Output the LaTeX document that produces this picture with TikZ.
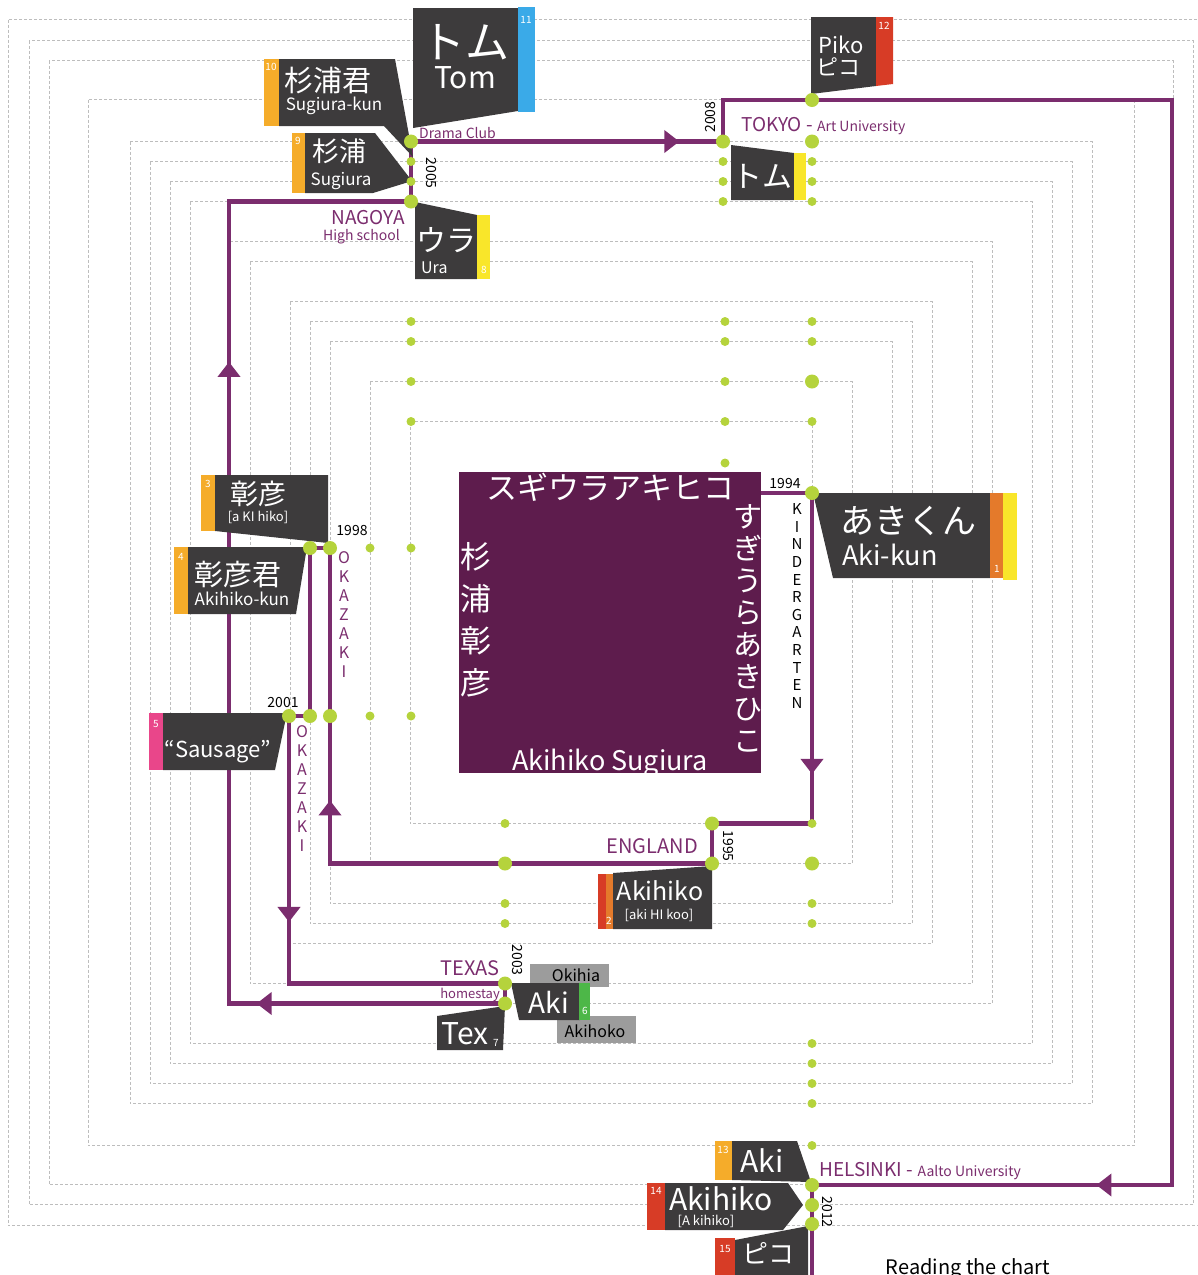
\documentclass[tikz,border=0pt]{standalone}
\usepackage{fontspec}
\setmainfont{Noto Sans CJK JP}
\usetikzlibrary{arrows.meta,decorations.markings}

\definecolor{routec}{HTML}{7B2D6E}
\definecolor{boxc}{HTML}{5E1C4D}
\definecolor{darkc}{HTML}{3D3B3C}
\definecolor{dotc}{HTML}{B5D33C}
\definecolor{gridc}{HTML}{BDBDBD}
\definecolor{orangec}{HTML}{F5AC2A}
\definecolor{yellowc}{HTML}{F9E62A}
\definecolor{rustc}{HTML}{E47A2B}
\definecolor{redc}{HTML}{D73C26}
\definecolor{bluec}{HTML}{3AAAE8}
\definecolor{pinkc}{HTML}{E9468A}
\definecolor{greenc}{HTML}{4DB748}
\definecolor{grayc}{HTML}{9C9C9C}

\newcommand{\fsz}[1]{\fontsize{#1}{#1}\selectfont}

\begin{document}
\begin{tikzpicture}[x=1pt,y=-1pt,
  grid/.style={gridc, densely dashed, line width=0.9pt},
  route/.style={routec, line width=4.5pt},
  arrowat/.style={postaction={decorate,decoration={markings,
      mark=at position #1 with {\arrow{Triangle[width=22pt,length=15pt]}}}}},
  dot/.style={circle, fill=dotc, inner sep=0, minimum size=9pt},
  bigdot/.style={dot, minimum size=14pt},
  callout/.style={fill=darkc},
  lbl/.style={text=white, inner sep=0},
  num/.style={text=white, inner sep=0, font=\fsz{10}},
  place/.style={text=routec, inner sep=0},
  year/.style={inner sep=0, font=\fsz{14}}]
  \useasboundingbox (0,0) rectangle (1198,1275);
  % Year squares
  \foreach \s in {201,241,281,301,321,361,381,421,441,461,481,523,562,582,603}
    \draw[grid] (611-\s,622.5-\s) rectangle (611+\s,622.5+\s);
  % Name box
  \node[fill=boxc, minimum width=302pt, minimum height=301pt, inner sep=0] (me) at (610,622.5) {};
  \begin{scope}
    \clip (me.south west) rectangle (me.north east);
    \node[lbl, font=\fsz{31}] (katakana) at (610,487) {スギウラアキヒコ};
    \node[lbl, font=\fontsize{31}{42}\selectfont, align=center] (kanji) at (476,620) {杉\\浦\\彰\\彦};
    \node[lbl, font=\fontsize{29}{32}\selectfont, align=center] (hiragana) at (748,628) {す\\ぎ\\う\\ら\\あ\\き\\ひ\\こ};
    \node[lbl, font=\fsz{27}, anchor=base] (romaji) at (610,770) {Akihiko Sugiura};
  \end{scope}
  % Route points
  \coordinate (k1) at (812,493);
  \coordinate (k2) at (812,823.5);
  \coordinate (e1) at (712,823.5);
  \coordinate (e2) at (712,863.5);
  \coordinate (o1) at (330,863.5);
  \coordinate (o2) at (330,548);
  \coordinate (o3) at (310,548);
  \coordinate (o4) at (310,716);
  \coordinate (o5) at (289,716);
  \coordinate (o6) at (289,983.5);
  \coordinate (t1) at (505,983.5);
  \coordinate (t2) at (505,1003.5);
  \coordinate (t3) at (229,1003.5);
  \coordinate (n1) at (229,201.5);
  \coordinate (n2) at (411,201.5);
  \coordinate (n3) at (411,141.5);
  \coordinate (y1) at (723,141.5);
  \coordinate (y2) at (723,100);
  \coordinate (y3) at (1172,100);
  \coordinate (y4) at (1172,1185);
  \coordinate (h1) at (812,1185);
  \coordinate (h2) at (812,1290);
  % Route
  \draw[route] (me.east |- k1) -- (k1) -- (k2) -- (e1) -- (e2) -- (o1) -- (o2) -- (o3)
    -- (o4) -- (o5) -- (o6) -- (t1) -- (t2) -- (t3) -- (n1) -- (n2) -- (n3) -- (y1)
    -- (y2) -- (y3) -- (y4) -- (h1) -- (h2);
  \draw[route, arrowat=0.85] (k1) -- (k2);
  \draw[route, arrowat=0.2] (o1) -- (o2);
  \draw[route, arrowat=0.77] (o5) -- (o6);
  \draw[route, arrowat=0.9] (t2) -- (t3);
  \draw[route, arrowat=0.8] (t3) -- (n1);
  \draw[route, arrowat=0.86] (n3) -- (y1);
  \draw[route, arrowat=0.21] (y4) -- (h1);
  % Places
  \node[place, font=\fsz{14}, anchor=base west] (drama) at (419,138) {Drama Club};
  \node[place, anchor=base west] (tokyo) at (741,131) {\fsz{19}TOKYO - \fsz{14}Art University};
  \node[place, font=\fsz{19}, anchor=east] (nagoya) at (405,218) {NAGOYA};
  \node[place, font=\fsz{14}, anchor=east] (highschool) at (400,237) {High school};
  \node[place, font=\fsz{20}, anchor=east] (england) at (698,846) {ENGLAND};
  \node[place, font=\fsz{20}, anchor=east] (texas) at (500,968) {TEXAS};
  \node[place, font=\fsz{13}, anchor=east] (homestay) at (500,995) {homestay};
  \node[place, anchor=base west] (helsinki) at (819,1176) {\fsz{19}HELSINKI - \fsz{14}Aalto University};
  \node[place, font=\fontsize{16}{19}\selectfont, align=center] (okazaki1) at (344,615) {O\\K\\A\\Z\\A\\K\\I};
  \node[place, font=\fontsize{16}{19}\selectfont, align=center] (okazaki2) at (302,789) {O\\K\\A\\Z\\A\\K\\I};
  \node[inner sep=0, font=\fontsize{15}{17.6}\selectfont, align=center] (kinder) at (797,606) {K\\I\\N\\D\\E\\R\\G\\A\\R\\T\\E\\N};
  % Years
  \node[year] (y1994) at (785,484) {1994};
  \node[year] (y1998) at (352,531) {1998};
  \node[year] (y2001) at (283,702) {2001};
  \node[year, rotate=-90] (y2005) at (431,173) {2005};
  \node[year, rotate=90] (y2008) at (711,117) {2008};
  \node[year, rotate=-90] (y1995) at (728,846) {1995};
  \node[year, rotate=-90] (y2003) at (517,960) {2003};
  \node[year, rotate=-90] (y2012) at (827,1212) {2012};
  % 1 Aki-kun
  \fill[callout] (813,493) -- (990,493) -- (990,578) -- (833,578) -- cycle;
  \fill[rustc] (990,493) rectangle (1003,578);
  \fill[yellowc] (1003,493) rectangle (1017,580);
  \node[lbl, font=\fsz{34}] (akikunjp) at (908,521) {あきくん};
  \node[lbl, font=\fsz{27}, anchor=west] (akikun) at (842,555) {Aki-kun};
  \node[num] (num1) at (997,569) {1};
  % 2 Akihiko
  \fill[callout] (613,873) -- (712,866) -- (712,929) -- (613,929) -- cycle;
  \fill[redc] (598,874) rectangle (606,929);
  \fill[rustc] (606,874) rectangle (613,929);
  \node[lbl, font=\fsz{25}] (akihiko) at (660,891) {Akihiko};
  \node[lbl, font=\fsz{13}] (akihikor) at (659,915) {[aki HI koo]};
  \node[num] (num2) at (609,921) {2};
  % 3 Akihiko kanji
  \fill[orangec] (201,475) rectangle (215,531);
  \fill[callout] (215,475) -- (328,475) -- (328,543) -- (215,531) -- cycle;
  \node[lbl, font=\fsz{28}] (akihikojp) at (258,494) {彰彦};
  \node[lbl, font=\fsz{13}] (akihikojpr) at (258,517) {[a KI hiko]};
  \node[num] (num3) at (208,484) {3};
  % 4 Akihiko-kun
  \fill[orangec] (174,547) rectangle (188,614);
  \fill[callout] (188,547) -- (307,547) -- (296,614) -- (188,614) -- cycle;
  \node[lbl, font=\fsz{29}] (akihikokunjp) at (238,575) {彰彦君};
  \node[lbl, font=\fsz{17}] (akihikokun) at (242,599) {Akihiko-kun};
  \node[num] (num4) at (181,557) {4};
  % 5 Sausage
  \fill[pinkc] (149,713) rectangle (163,770);
  \fill[callout] (163,713) -- (287,713) -- (275,770) -- (163,770) -- cycle;
  \node[lbl, font=\fsz{22}] (sausage) at (218,752) {“Sausage”};
  \node[num] (num5) at (156,724) {5};
  % 6 Aki
  \fill[grayc] (530,964) rectangle (609,987);
  \node[inner sep=0, font=\fsz{16}] (okihia) at (576,975) {Okihia};
  \fill[grayc] (557,1016) rectangle (636,1043);
  \node[inner sep=0, font=\fsz{16}] (akihoko) at (595,1031) {Akihoko};
  \fill[callout] (511,983) -- (580,983) -- (580,1020) -- (519,1020) -- cycle;
  \fill[greenc] (579,983) rectangle (590,1020);
  \node[lbl, font=\fsz{28}] (aki) at (549,1002) {Aki};
  \node[num] (num6) at (585,1011) {6};
  % 7 Tex
  \fill[callout] (437,1016) -- (505,1006) -- (503,1050) -- (437,1050) -- cycle;
  \node[lbl, font=\fsz{30}] (tex) at (465,1034) {Tex};
  \node[num] (num7) at (496,1043) {7};
  % 8 Ura
  \fill[callout] (415,202) -- (477,215) -- (477,279) -- (415,279) -- cycle;
  \fill[yellowc] (477,215) rectangle (490,279);
  \node[lbl, font=\fsz{30}] (urajp) at (446,240) {ウラ};
  \node[lbl, font=\fsz{16}, anchor=west] (ura) at (421,268) {Ura};
  \node[num] (num8) at (484,270) {8};
  % 9 Sugiura
  \fill[orangec] (292,133) rectangle (305,193);
  \fill[callout] (305,133) -- (375,133) -- (412,181) -- (373,193) -- (305,193) -- cycle;
  \node[lbl, font=\fsz{27}] (sugiurajp) at (339,151) {杉浦};
  \node[lbl, font=\fsz{17}] (sugiura) at (341,181) {Sugiura};
  \node[num] (num9) at (298,141) {9};
  % 10 Sugiura-kun
  \fill[orangec] (264,59) rectangle (279,126);
  \fill[callout] (279,59) -- (395,59) -- (413,157) -- (384,126) -- (279,126) -- cycle;
  \node[lbl, font=\fsz{29}] (sugiurakunjp) at (328,80) {杉浦君};
  \node[lbl, font=\fsz{17}] (sugiurakun) at (334,106) {Sugiura-kun};
  \node[num] (num10) at (271,67) {10};
  % 11 Tom
  \fill[callout] (413,8) -- (518,8) -- (518,111) -- (413,128) -- cycle;
  \fill[bluec] (518,7) rectangle (535,112);
  \node[lbl, font=\fsz{44}] (tomjp) at (465,42) {トム};
  \node[lbl, font=\fsz{30}] (tom) at (465,78) {Tom};
  \node[num] (num11) at (526,20) {11};
  % 12 Piko
  \fill[callout] (811,17) -- (876,17) -- (876,86) -- (811,94) -- cycle;
  \fill[redc] (876,17) -- (893,17) -- (893,84) -- (876,86) -- cycle;
  \node[lbl, font=\fsz{22}] (piko) at (841,45) {Piko};
  \node[lbl, font=\fsz{22}] (pikojp) at (838,67) {ピコ};
  \node[num] (num12) at (884,26) {12};
  % Tom in Tokyo
  \fill[callout] (731,145) -- (794,153) -- (794,200) -- (731,200) -- cycle;
  \fill[yellowc] (794,153) rectangle (806,200);
  \node[lbl, font=\fsz{30}] (tomtokyo) at (762,176) {トム};
  % 13 Aki
  \fill[orangec] (715,1141) rectangle (732,1180);
  \fill[callout] (732,1141) -- (797,1141) -- (811,1182) -- (732,1180) -- cycle;
  \node[lbl, font=\fsz{30}] (akihel) at (762,1161) {Aki};
  \node[num] (num13) at (723,1150) {13};
  % 14 Akihiko
  \fill[redc] (647,1183) rectangle (665,1230);
  \fill[callout] (665,1183) -- (788,1183) -- (803,1205) -- (783,1230) -- (665,1230) -- cycle;
  \node[lbl, font=\fsz{30}] (akihikohel) at (721,1199) {Akihiko};
  \node[lbl, font=\fsz{13}] (akihikohelr) at (706,1221) {[A kihiko]};
  \node[num] (num14) at (656,1191) {14};
  % 15 Piko
  \fill[redc] (715,1238) rectangle (735,1280);
  \fill[callout] (735,1240) -- (808,1226) -- (808,1280) -- (735,1280) -- cycle;
  \node[lbl, font=\fsz{26}] (pikohel) at (768,1253) {ピコ};
  \node[num] (num15) at (725,1249) {15};
  % Dots
  \foreach \x/\y [count=\i] in {411/161.5, 411/181.5, 411/321.5, 411/341.5, 411/381.5,
      411/421.5, 411/548, 411/716, 370/548, 370/716, 723/161.5, 723/181.5, 723/201.5,
      725/321.5, 725/341.5, 725/381.5, 725/421.5, 725/463, 812/161.5, 812/181.5,
      812/201.5, 812/321.5, 812/341.5, 812/421.5, 812/823.5, 812/903.5, 812/923.5,
      812/1043.5, 812/1063.5, 812/1083.5, 812/1103.5, 812/1145.5, 505/823.5,
      505/903.5, 505/923.5}
    \node[dot] (sd\i) at (\x,\y) {};
  \foreach \c in {k1,e1,e2,o2,o3,o4,o5,t1,t2,n2,n3,y1,h1}
    \node[bigdot] (\c d) at (\c) {};
  \foreach \x/\y [count=\i] in {812/100, 812/141.5, 505/863.5, 812/863.5, 812/381.5,
      330/716, 812/1205, 812/1224}
    \node[bigdot] (bd\i) at (\x,\y) {};
  % Legend
  \node[inner sep=0, font=\fsz{20}, anchor=base] (reading) at (968,1274) {Reading the chart};
\end{tikzpicture}
\end{document}
